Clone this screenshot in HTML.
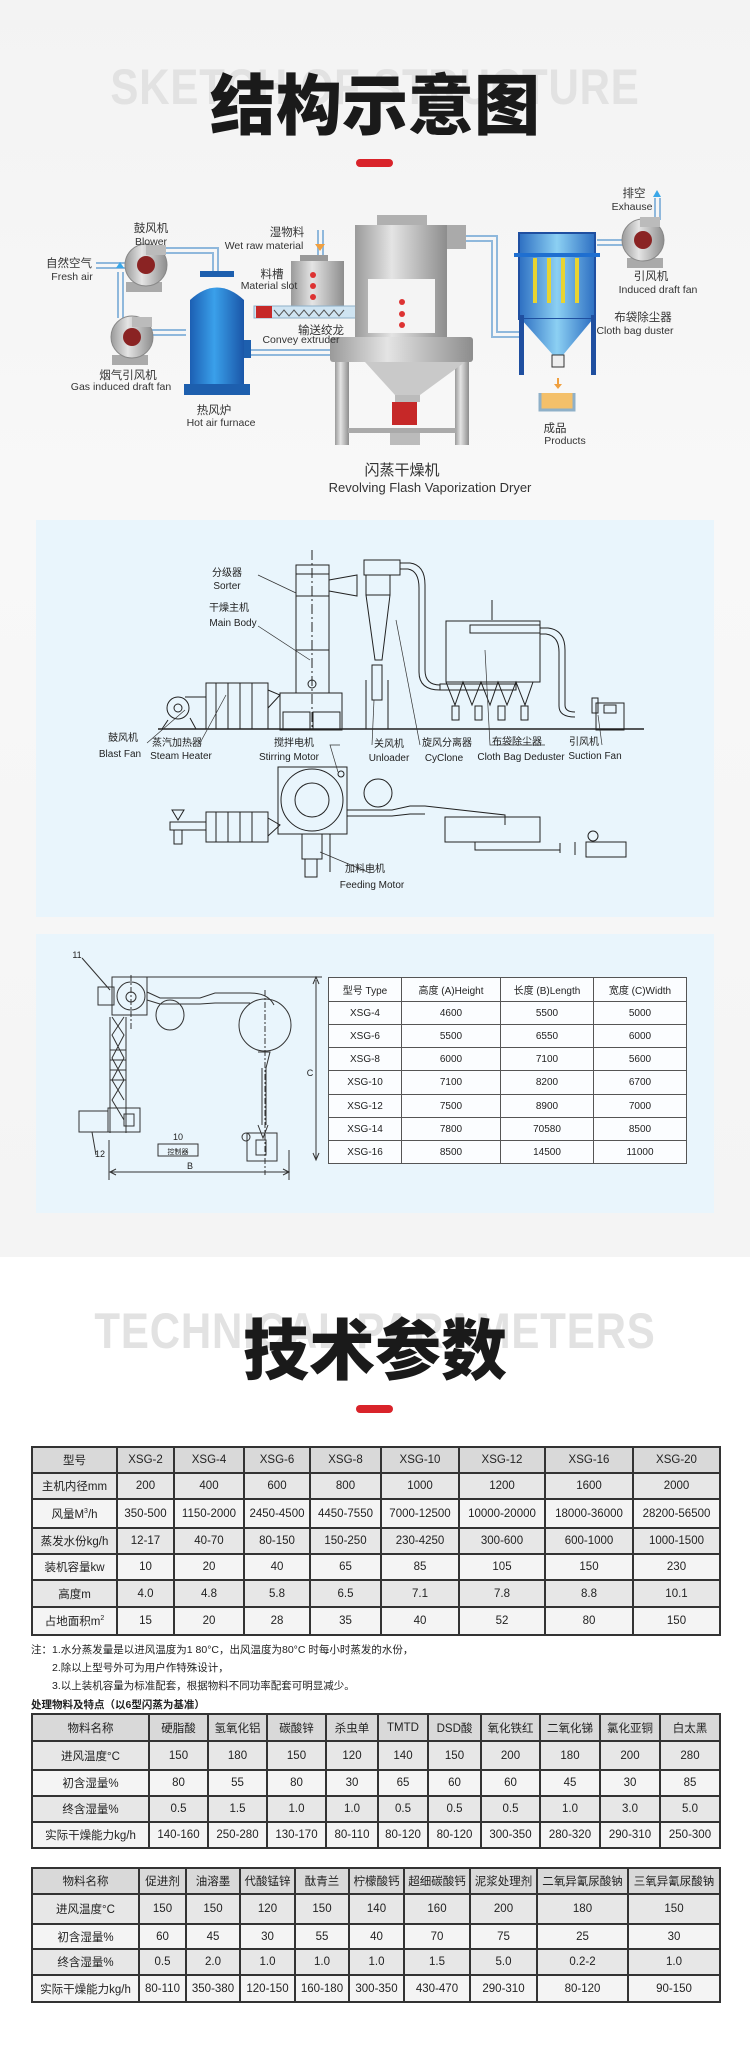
<!DOCTYPE html>
<html><head><meta charset="utf-8">
<style>
*{margin:0;padding:0;box-sizing:border-box}
body{width:750px;height:2064px;position:relative;background:#fff;font-family:"Liberation Sans","Noto Sans CJK SC",sans-serif;overflow:hidden}
.abs{position:absolute}
.topbg{left:0;top:0;width:750px;height:1257px;background:linear-gradient(180deg,#f3f3f3 0%,#f8f8f8 40%,#f4f4f4 100%)}
.wm{position:absolute;left:0;width:750px;text-align:center;font-weight:bold;color:#e2e2e2;letter-spacing:1px;font-family:"Liberation Sans",sans-serif;transform:scaleX(0.84);transform-origin:375px 0}
.ttl{position:absolute;left:0;width:750px;text-align:center;font-weight:900;color:#1a1a1a;font-family:"Noto Sans CJK SC",sans-serif}
.bar{position:absolute;left:356px;width:37px;height:8px;border-radius:4px;background:#d9232a}
.panel{position:absolute;left:36px;width:678px;background:#e9f5fc}
table{border-collapse:collapse;position:absolute;table-layout:fixed;font-family:"Liberation Sans Narrow","Liberation Sans","Noto Sans CJK SC",sans-serif;color:#222;text-align:center}
.t td{border:2px solid #333;font-size:11.5px;padding:0;white-space:nowrap;overflow:hidden}
.t tr:nth-child(odd) td{background:#f4f4f4}
.t tr:nth-child(even) td{background:#e7e7e7}
.t tr:first-child td{background:#d9d9d9}
.s td{border:1px solid #555;font-size:10px;background:#fbfdff;padding:0}
.note{position:absolute;font-size:10.5px;color:#222;font-family:"Liberation Sans","Noto Sans CJK SC",sans-serif;white-space:nowrap}
svg text{font-family:"Liberation Sans","Noto Sans CJK SC",sans-serif}
</style></head><body>
<div class="abs topbg"></div>

<div class="wm" style="top:58px;font-size:50px">SKETCH OF STRUCTURE</div>
<div class="ttl" style="top:56px;font-size:66px;line-height:90px">结构示意图</div>
<div class="bar" style="top:159px"></div>

<!-- diagram 1 -->
<svg class="abs" style="left:0;top:170px" width="750" height="340" viewBox="0 170 750 340">
<defs>
<linearGradient id="blue" x1="0" x2="1"><stop offset="0" stop-color="#1c5fb3"/><stop offset=".45" stop-color="#3aa0ea"/><stop offset="1" stop-color="#1a56a8"/></linearGradient>
<linearGradient id="silver" x1="0" x2="1"><stop offset="0" stop-color="#9a9a9a"/><stop offset=".4" stop-color="#e4e4e4"/><stop offset="1" stop-color="#8d8d8d"/></linearGradient>
<linearGradient id="bag" x1="0" x2="1"><stop offset="0" stop-color="#2d6fc2"/><stop offset=".5" stop-color="#8cd0f3"/><stop offset="1" stop-color="#2d6fc2"/></linearGradient>
</defs>
<g fill="none" stroke="#8fb8dc" stroke-width="2">
<path d="M96 263 H135"/><path d="M96 268 H135"/>
<path d="M160 248 H218 V275"/><path d="M160 253 H213 V275"/>
<path d="M150 330 H186"/><path d="M150 335 H186"/>
<path d="M118 272 V318"/><path d="M123 272 V318"/>
<path d="M249 350 H330"/><path d="M249 355 H330"/>
<path d="M466 236 H497 V332 H519"/><path d="M466 241 H492 V337 H519"/>
<path d="M597 240 H625"/><path d="M597 245 H625"/>
<path d="M655 220 V198"/><path d="M660 220 V198"/>
<path d="M318 230 V255"/><path d="M323 230 V255"/>
</g>
<path d="M120 262 l-4 6 h8z" fill="#3aa7e8"/>
<path d="M657 190 l-4 7 h8z" fill="#3aa7e8"/>
<path d="M315 244 h10 l-5 7z" fill="#f0a040"/>
<g>
<rect x="126" y="282" width="36" height="10" fill="#aaa"/>
<circle cx="146" cy="265" r="21" fill="url(#silver)" stroke="#888"/><rect x="146" y="245" width="20" height="10" fill="#bbb"/>
<circle cx="146" cy="265" r="9" fill="#8a2323"/>
<rect x="112" y="355" width="36" height="10" fill="#aaa"/>
<circle cx="132" cy="337" r="21" fill="url(#silver)" stroke="#888"/><rect x="132" y="317" width="20" height="10" fill="#bbb"/>
<circle cx="132" cy="337" r="9" fill="#8a2323"/>
<rect x="627" y="258" width="36" height="10" fill="#aaa"/>
<circle cx="643" cy="240" r="21" fill="url(#silver)" stroke="#888"/><rect x="640" y="217" width="20" height="10" fill="#bbb"/>
<circle cx="643" cy="240" r="9" fill="#8a2323"/>
</g>
<rect x="200" y="271" width="34" height="6" fill="#1d5fae"/>
<path d="M190 300 Q217 275 244 300 V384 H190Z" fill="url(#blue)"/>
<rect x="184" y="384" width="66" height="11" fill="#1d5fae"/>
<rect x="244" y="340" width="7" height="18" fill="#1d5fae"/>
<rect x="300" y="255" width="28" height="6" fill="#999"/>
<rect x="291" y="261" width="53" height="46" fill="url(#silver)"/>
<g fill="#d33"><circle cx="313" cy="275" r="3"/><circle cx="313" cy="286" r="3"/><circle cx="313" cy="297" r="3"/></g>
<rect x="254" y="306" width="102" height="12" fill="#cfe4f2" stroke="#8fb0c8"/>
<rect x="256" y="306" width="16" height="12" fill="#c62828"/>
<path d="M274 310 l5 6 l5 -6 l5 6 l5 -6 l5 6 l5 -6 l5 6 l5 -6 l5 6 l5 -6 l5 6 l5 -6 l5 6 l5 -6" fill="none" stroke="#555"/>
<rect x="377" y="215" width="50" height="10" fill="#b0b0b0"/>
<rect x="355" y="225" width="92" height="112" fill="url(#silver)"/>
<rect x="447" y="225" width="19" height="24" fill="#aaa"/>
<rect x="368" y="279" width="67" height="54" fill="#f4f4f4"/>
<g fill="#d33"><circle cx="402" cy="302" r="3"/><circle cx="402" cy="314" r="3"/><circle cx="402" cy="325" r="3"/></g>
<rect x="330" y="337" width="143" height="25" rx="3" fill="url(#silver)"/>
<rect x="335" y="362" width="14" height="83" fill="url(#silver)"/>
<rect x="455" y="362" width="14" height="83" fill="url(#silver)"/>
<path d="M365 362 H465 L420 395 H395Z" fill="#c9c9c9"/>
<rect x="395" y="395" width="25" height="7" fill="#bbb"/>
<rect x="392" y="402" width="25" height="23" fill="#c62828"/>
<rect x="348" y="428" width="108" height="5" fill="#aaa"/>
<rect x="390" y="433" width="30" height="12" fill="#bbb"/>
<rect x="519" y="233" width="76" height="86" fill="url(#bag)" stroke="#1f4fa0" stroke-width="2"/>
<rect x="514" y="253" width="86" height="4" fill="#1f6fd0"/>
<g fill="#e8d431"><rect x="533" y="258" width="4" height="45"/><rect x="547" y="258" width="4" height="45"/><rect x="561" y="258" width="4" height="45"/><rect x="575" y="258" width="4" height="45"/></g>
<path d="M521 319 H593 L563 355 H553Z" fill="url(#bag)"/>
<rect x="519" y="315" width="5" height="60" fill="#1f4fa0"/><rect x="591" y="315" width="5" height="60" fill="#1f4fa0"/>
<rect x="552" y="355" width="12" height="12" fill="#eee" stroke="#333"/>
<path d="M557 378 v6 h-3 l4 5 l4 -5 h-3 v-6z" fill="#f0a040"/>
<path d="M540 393 V410 H574 V393" fill="#f4c06a" stroke="#8fb0c8" stroke-width="3"/>
<g font-size="11.5" fill="#333" text-anchor="middle">
<text x="634" y="197">排空</text><text x="632" y="210" font-size="10.5">Exhause</text>
<text x="151" y="232">鼓风机</text><text x="151" y="245" font-size="10.5">Blower</text>
<text x="287" y="236">湿物料</text><text x="264" y="249" font-size="10.5">Wet raw material</text>
<text x="69" y="267">自然空气</text><text x="72" y="280" font-size="10.5">Fresh air</text>
<text x="272" y="278">料槽</text><text x="269" y="289" font-size="10.5">Material slot</text>
<text x="651" y="280">引风机</text><text x="658" y="293" font-size="10.5">Induced draft fan</text>
<text x="643" y="321">布袋除尘器</text><text x="635" y="334" font-size="10.5">Cloth bag duster</text>
<text x="321" y="334">输送绞龙</text><text x="301" y="343" font-size="10.5">Convey extruder</text>
<text x="128" y="379">烟气引风机</text><text x="121" y="390" font-size="10.5">Gas induced draft fan</text>
<text x="214" y="414">热风炉</text><text x="221" y="426" font-size="10.5">Hot air furnace</text>
<text x="555" y="432">成品</text><text x="565" y="444" font-size="10.5">Products</text>
<text x="402" y="475" font-size="15">闪蒸干燥机</text>
<text x="430" y="492" font-size="13">Revolving Flash Vaporization Dryer</text>
</g>
</svg>

<div class="panel" style="top:520px;height:397px"></div>
<svg class="abs" style="left:0;top:520px" width="750" height="400" viewBox="0 520 750 400">
<g fill="none" stroke="#222" stroke-width="1">
<line x1="158" y1="729" x2="644" y2="729" stroke-width="1.5"/>
<rect x="296" y="565" width="33" height="128"/><line x1="296" y1="574" x2="329" y2="574"/><line x1="296" y1="596" x2="329" y2="596"/><line x1="296" y1="650" x2="329" y2="650"/>
<line x1="312" y1="550" x2="312" y2="730" stroke-dasharray="10 3 2 3"/>
<circle cx="312" cy="684" r="4"/>
<rect x="280" y="693" width="62" height="37"/><rect x="283" y="712" width="27" height="17"/><rect x="313" y="712" width="27" height="17"/>
<path d="M329 580 L357 575 V596 L329 591"/>
<rect x="366" y="575" width="24" height="20"/><path d="M366 595 L375 660 H382 L390 595"/>
<rect x="364" y="560" width="36" height="15"/>
<rect x="372" y="665" width="10" height="35"/><line x1="366" y1="680" x2="366" y2="729"/><line x1="388" y1="680" x2="388" y2="729"/>
<path d="M400 563 H410 Q425 565 425 585 V670 Q425 685 440 685"/>
<path d="M400 569 H408 Q419 571 419 588 V672 Q419 690 440 690"/>
<rect x="446" y="621" width="94" height="61"/>
<rect x="470" y="625" width="70" height="8"/>
<rect x="440" y="684" width="76" height="6"/>
<path d="M446 682 L455 705 L463 682 L472 705 L481 682 L490 705 L498 682 L507 705 L516 682 L525 705 L533 682"/>
<rect x="452" y="706" width="7" height="14"/><rect x="475" y="706" width="7" height="14"/><rect x="498" y="706" width="7" height="14"/><rect x="521" y="706" width="7" height="14"/>
<line x1="492" y1="600" x2="492" y2="620"/>
<path d="M540 628 H548 Q565 630 565 650 V705 Q565 712 575 712"/>
<path d="M540 634 H546 Q559 636 559 652 V706 Q559 717 575 717"/>
<rect x="596" y="703" width="28" height="27"/><rect x="592" y="698" width="6" height="15"/><rect x="604" y="705" width="12" height="8"/>
<rect x="206" y="683" width="62" height="46"/><line x1="216" y1="683" x2="216" y2="729"/><line x1="228" y1="683" x2="228" y2="729"/><line x1="240" y1="683" x2="240" y2="729"/><line x1="252" y1="683" x2="252" y2="729"/>
<path d="M268 690 L280 695 L268 708"/>
<circle cx="178" cy="708" r="11"/><circle cx="178" cy="708" r="4"/><path d="M168 720 L162 729 H196 L190 718"/><path d="M185 697 H206"/>
<rect x="278" y="767" width="69" height="67"/><circle cx="312" cy="800" r="31"/><circle cx="312" cy="800" r="17"/><circle cx="341" cy="774" r="3"/>
<circle cx="378" cy="793" r="14"/>
<rect x="206" y="812" width="62" height="30"/><line x1="216" y1="812" x2="216" y2="842"/><line x1="228" y1="812" x2="228" y2="842"/><line x1="240" y1="812" x2="240" y2="842"/><line x1="252" y1="812" x2="252" y2="842"/>
<path d="M268 818 L280 825 L268 836"/>
<rect x="170" y="822" width="36" height="8"/><path d="M172 810 H184 L178 820Z"/><rect x="174" y="830" width="8" height="14"/>
<rect x="302" y="834" width="20" height="25"/><rect x="305" y="859" width="12" height="18"/>
<path d="M347 810 H392 L410 806 H425 L505 815 V825"/>
<path d="M347 816 H392 L410 814 H425"/>
<rect x="445" y="817" width="95" height="25"/>
<path d="M475 842 V850 H560"/><path d="M560 843 V853 M575 842 V855"/>
<rect x="586" y="842" width="40" height="15"/><circle cx="593" cy="836" r="5"/>
<line x1="330" y1="834" x2="330" y2="872"/>
</g>
<g stroke="#333" stroke-width=".7" fill="none">
<path d="M258 575 L296 593"/><path d="M258 626 L310 660"/>
<path d="M147 743 L185 710"/><path d="M200 743 L226 695"/>
<path d="M340 745 H330 L338 772"/><path d="M372 745 L374 700"/><path d="M420 745 L396 620"/>
<path d="M545 745 H490 L485 650"/><path d="M602 745 L598 715"/>
<path d="M370 873 L320 852"/>
</g>
<g font-size="10" fill="#222" text-anchor="middle">
<text x="227" y="576">分级器</text><text x="227" y="589">Sorter</text>
<text x="229" y="611">干燥主机</text><text x="233" y="626">Main Body</text>
<text x="123" y="741">鼓风机</text><text x="120" y="757">Blast Fan</text>
<text x="177" y="746">蒸汽加热器</text><text x="181" y="759">Steam Heater</text>
<text x="294" y="746">搅拌电机</text><text x="289" y="760">Stirring Motor</text>
<text x="389" y="747">关风机</text><text x="389" y="761">Unloader</text>
<text x="447" y="746">旋风分离器</text><text x="444" y="761">CyClone</text>
<text x="517" y="745">布袋除尘器</text><text x="521" y="760">Cloth Bag Deduster</text>
<text x="584" y="745">引风机</text><text x="595" y="759">Suction Fan</text>
<text x="365" y="872">加料电机</text><text x="372" y="888">Feeding Motor</text>
</g>
</svg>

<div class="panel" style="top:934px;height:279px"></div>
<svg class="abs" style="left:0;top:934px" width="330" height="279" viewBox="0 934 330 279">
<g fill="none" stroke="#333" stroke-width="1">
<line x1="112" y1="977" x2="322" y2="977"/>
<line x1="316" y1="980" x2="316" y2="1160"/><path d="M313 984 L316 977 L319 984 M313 1153 L316 1160 L319 1153"/>
<line x1="110" y1="1172" x2="289" y2="1172"/><path d="M116 1169 L110 1172 L116 1175 M283 1169 L289 1172 L283 1175"/>
<line x1="109" y1="1140" x2="109" y2="1180"/><line x1="289" y1="1150" x2="289" y2="1180"/>
<rect x="112" y="977" width="35" height="38"/>
<circle cx="131" cy="996" r="14"/><circle cx="131" cy="997" r="5"/>
<rect x="98" y="987" width="16" height="18"/>
<path d="M147 992 L160 998 H200 L215 993 H250 Q268 993 274 1005"/>
<path d="M147 1000 L160 1004 H200 L215 1003 H250"/>
<ellipse cx="170" cy="1015" rx="14" ry="15"/>
<circle cx="265" cy="1025" r="26"/>
<path d="M258 1052 H270 L266 1068 V1125 M262 1068 V1125"/>
<path d="M258 1125 L263 1138 L268 1125"/>
<rect x="247" y="1133" width="30" height="28"/><rect x="256" y="1140" width="10" height="15"/><circle cx="246" cy="1137" r="4"/>
<path d="M112 1017 L124 1035 L112 1058 L124 1080 L112 1100 L124 1120 M124 1017 L112 1035 L124 1058 L112 1080 L124 1100"/>
<line x1="110" y1="1017" x2="110" y2="1133"/><line x1="126" y1="1017" x2="126" y2="1133"/>
<line x1="110" y1="1050" x2="126" y2="1050"/><line x1="110" y1="1060" x2="126" y2="1060"/><line x1="110" y1="1070" x2="126" y2="1070"/><line x1="110" y1="1080" x2="126" y2="1080"/>
<rect x="79" y="1111" width="29" height="21"/><rect x="108" y="1108" width="32" height="24"/><rect x="124" y="1114" width="10" height="12"/>
<path d="M82 958 L110 990"/><path d="M92 1132 L96 1155"/>
<rect x="158" y="1144" width="40" height="12"/>
<line x1="131" y1="975" x2="131" y2="1030" stroke-dasharray="6 2 2 2"/><line x1="265" y1="990" x2="265" y2="1175" stroke-dasharray="6 2 2 2"/>
</g>
<g font-size="9" fill="#222" text-anchor="middle">
<text x="77" y="958">11</text><text x="100" y="1157">12</text><text x="178" y="1140">10</text>
<text x="178" y="1154" font-size="7">控制器</text>
<text x="190" y="1169">B</text><text x="310" y="1076">C</text>
</g>
</svg>
<table class="s" style="left:328px;top:977px;width:358px">
<colgroup><col style="width:73px"><col style="width:99px"><col style="width:93px"><col style="width:93px"></colgroup>
<tr style="height:24px"><td>型号 Type</td><td>高度 (A)Height</td><td>长度 (B)Length</td><td>宽度 (C)Width</td></tr>
<tr style="height:23px"><td>XSG-4</td><td>4600</td><td>5500</td><td>5000</td></tr>
<tr style="height:23px"><td>XSG-6</td><td>5500</td><td>6550</td><td>6000</td></tr>
<tr style="height:23px"><td>XSG-8</td><td>6000</td><td>7100</td><td>5600</td></tr>
<tr style="height:24px"><td>XSG-10</td><td>7100</td><td>8200</td><td>6700</td></tr>
<tr style="height:23px"><td>XSG-12</td><td>7500</td><td>8900</td><td>7000</td></tr>
<tr style="height:23px"><td>XSG-14</td><td>7800</td><td>70580</td><td>8500</td></tr>
<tr style="height:23px"><td>XSG-16</td><td>8500</td><td>14500</td><td>11000</td></tr>
</table>

<div class="wm" style="top:1302px;font-size:50px">TECHNICAL PARAMETERS</div>
<div class="ttl" style="top:1301px;font-size:66px;line-height:90px">技术参数</div>
<div class="bar" style="top:1405px"></div>

<table class="t" style="left:31px;top:1446px;width:688px">
<colgroup><col style="width:85px"><col style="width:57px"><col style="width:70px"><col style="width:66px"><col style="width:71px"><col style="width:78px"><col style="width:86px"><col style="width:88px"><col style="width:87px"></colgroup>
<tr style="height:26px"><td>型号</td><td>XSG-2</td><td>XSG-4</td><td>XSG-6</td><td>XSG-8</td><td>XSG-10</td><td>XSG-12</td><td>XSG-16</td><td>XSG-20</td></tr>
<tr style="height:26px"><td>主机内径mm</td><td>200</td><td>400</td><td>600</td><td>800</td><td>1000</td><td>1200</td><td>1600</td><td>2000</td></tr>
<tr style="height:29px"><td>风量M<sup style="font-size:7px">3</sup>/h</td><td>350-500</td><td>1150-2000</td><td>2450-4500</td><td>4450-7550</td><td>7000-12500</td><td>10000-20000</td><td>18000-36000</td><td>28200-56500</td></tr>
<tr style="height:26px"><td>蒸发水份kg/h</td><td>12-17</td><td>40-70</td><td>80-150</td><td>150-250</td><td>230-4250</td><td>300-600</td><td>600-1000</td><td>1000-1500</td></tr>
<tr style="height:26px"><td>装机容量kw</td><td>10</td><td>20</td><td>40</td><td>65</td><td>85</td><td>105</td><td>150</td><td>230</td></tr>
<tr style="height:27px"><td>高度m</td><td>4.0</td><td>4.8</td><td>5.8</td><td>6.5</td><td>7.1</td><td>7.8</td><td>8.8</td><td>10.1</td></tr>
<tr style="height:28px"><td>占地面积m<sup style="font-size:7px">2</sup></td><td>15</td><td>20</td><td>28</td><td>35</td><td>40</td><td>52</td><td>80</td><td>150</td></tr>
</table>

<div class="note" style="left:31px;top:1642px">注：1.水分蒸发量是以进风温度为1 80°C，出风温度为80°C 时每小时蒸发的水份，</div>
<div class="note" style="left:52px;top:1660px">2.除以上型号外可为用户作特殊设计，</div>
<div class="note" style="left:52px;top:1678px">3.以上装机容量为标准配套，根据物料不同功率配套可明显减少。</div>
<div class="note" style="left:31px;top:1697px;font-weight:bold">处理物料及特点（以6型闪蒸为基准）</div>

<table class="t" style="left:31px;top:1713px;width:688px">
<colgroup><col style="width:117px"><col style="width:59px"><col style="width:59px"><col style="width:59px"><col style="width:52px"><col style="width:50px"><col style="width:53px"><col style="width:59px"><col style="width:60px"><col style="width:60px"><col style="width:60px"></colgroup>
<tr style="height:27px"><td>物料名称</td><td>硬脂酸</td><td>氢氧化铝</td><td>碳酸锌</td><td>杀虫单</td><td>TMTD</td><td>DSD酸</td><td>氧化铁红</td><td>二氧化锑</td><td>氯化亚铜</td><td>白太黑</td></tr>
<tr style="height:29px"><td>进风温度°C</td><td>150</td><td>180</td><td>150</td><td>120</td><td>140</td><td>150</td><td>200</td><td>180</td><td>200</td><td>280</td></tr>
<tr style="height:26px"><td>初含湿量%</td><td>80</td><td>55</td><td>80</td><td>30</td><td>65</td><td>60</td><td>60</td><td>45</td><td>30</td><td>85</td></tr>
<tr style="height:26px"><td>终含湿量%</td><td>0.5</td><td>1.5</td><td>1.0</td><td>1.0</td><td>0.5</td><td>0.5</td><td>0.5</td><td>1.0</td><td>3.0</td><td>5.0</td></tr>
<tr style="height:26px"><td>实际干燥能力kg/h</td><td>140-160</td><td>250-280</td><td>130-170</td><td>80-110</td><td>80-120</td><td>80-120</td><td>300-350</td><td>280-320</td><td>290-310</td><td>250-300</td></tr>
</table>

<table class="t" style="left:31px;top:1867px;width:688px">
<colgroup><col style="width:107px"><col style="width:47px"><col style="width:54px"><col style="width:55px"><col style="width:54px"><col style="width:55px"><col style="width:66px"><col style="width:67px"><col style="width:91px"><col style="width:92px"></colgroup>
<tr style="height:26px"><td>物料名称</td><td>促进剂</td><td>油溶墨</td><td>代酸锰锌</td><td>酞青兰</td><td>柠檬酸钙</td><td>超细碳酸钙</td><td>泥浆处理剂</td><td>二氧异氰尿酸钠</td><td>三氧异氰尿酸钠</td></tr>
<tr style="height:30px"><td>进风温度°C</td><td>150</td><td>150</td><td>120</td><td>150</td><td>140</td><td>160</td><td>200</td><td>180</td><td>150</td></tr>
<tr style="height:25px"><td>初含湿量%</td><td>60</td><td>45</td><td>30</td><td>55</td><td>40</td><td>70</td><td>75</td><td>25</td><td>30</td></tr>
<tr style="height:26px"><td>终含湿量%</td><td>0.5</td><td>2.0</td><td>1.0</td><td>1.0</td><td>1.0</td><td>1.5</td><td>5.0</td><td>0.2-2</td><td>1.0</td></tr>
<tr style="height:27px"><td>实际干燥能力kg/h</td><td>80-110</td><td>350-380</td><td>120-150</td><td>160-180</td><td>300-350</td><td>430-470</td><td>290-310</td><td>80-120</td><td>90-150</td></tr>
</table>
</body></html>
